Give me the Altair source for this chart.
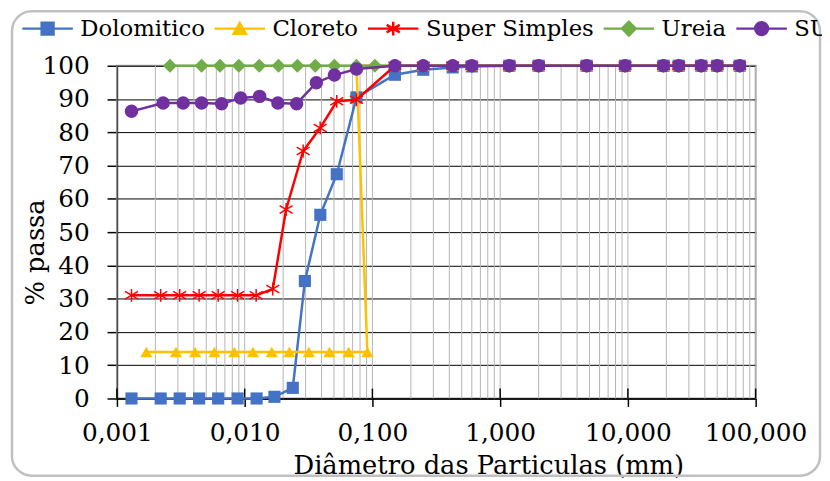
import altair as alt
import pandas as pd

series = ["Dolomitico", "Cloreto", "Super Simples", "Ureia", "SUC"]
colors = ["#4472C4", "#FFC000", "#FF0000", "#70AD47", "#7030A0"]

sieve_mm = [75, 50, 37.5, 25, 19, 9.5, 4.75, 2.0, 1.18, 0.6, 0.425, 0.25, 0.15, 0.075]

dolo_d = sieve_mm + [0.0526, 0.0391, 0.0296, 0.0238, 0.0171, 0.0124, 0.0088, 0.0062, 0.0044, 0.0031, 0.0022, 0.0013]
dolo_p = [100, 100, 100, 100, 100, 100, 100, 100, 100, 99.8, 99.5, 98.8, 97.3, 90.5,
          67.4, 55.2, 35.3, 3.2, 0.5, 0, 0, 0, 0, 0, 0, 0]

clor_d = sieve_mm + [0.0913, 0.0651, 0.0461, 0.0318, 0.0224, 0.0163, 0.0116, 0.0083, 0.0058, 0.0041, 0.0029, 0.0017]
clor_p = [100, 100, 100, 100, 100, 100, 100, 100, 100, 100, 100, 100, 100, 100,
          14, 14, 14, 14, 14, 14, 14, 14, 14, 14, 14, 14]

ss_d = sieve_mm + [0.0526, 0.0390, 0.0287, 0.0211, 0.0166, 0.0123, 0.0088, 0.0062, 0.0044, 0.0031, 0.0022, 0.0013]
ss_p = [100, 100, 100, 100, 100, 100, 100, 100, 100, 100, 100, 100, 100, 89.8,
        89.3, 81.3, 74.4, 56.8, 32.9, 31.0, 31, 31, 31, 31, 31, 31]

ure_d = sieve_mm + [0.1045, 0.0504, 0.0357, 0.0259, 0.0184, 0.0130, 0.0090, 0.0064, 0.0046, 0.0026]
ure_p = [100, 100, 100, 100, 100, 100, 100, 100, 100, 100, 100, 100, 100, 100,
         100, 100, 100, 100, 100, 100, 100, 100, 100, 100]

suc_d = sieve_mm + [0.0504, 0.0364, 0.0255, 0.0182, 0.0131, 0.0093, 0.0066, 0.0046, 0.0033, 0.0023, 0.0013]
suc_p = [100, 100, 100, 100, 100, 100, 100, 100, 100, 100, 100, 100, 100, 99.0,
         97.2, 94.9, 88.6, 88.8, 90.8, 90.3, 88.6, 88.8, 88.8, 88.8, 86.3]

x_ticks = [0.001, 0.01, 0.1, 1, 10, 100]
y_ticks = [0, 10, 20, 30, 40, 50, 60, 70, 80, 90, 100]
minor_mult = [1, 2, 3, 4, 5, 6, 7, 8, 9]

grid_vals = [d * m for d in x_ticks[:-1] for m in minor_mult] + [x_ticks[-1]]

rows = []
for s, ds, ps in zip(series, [dolo_d, clor_d, ss_d, ure_d, suc_d], [dolo_p, clor_p, ss_p, ure_p, suc_p]):
    for i, (d, p) in enumerate(zip(ds, ps)):
        rows.append({"serie": s, "d": d, "p": p, "ord": i})
df = pd.DataFrame(rows)

W, H = 645, 336
FONT = "DejaVu Serif"

xscale = alt.Scale(type="log", domain=[0.001, 100], nice=False)
yscale = alt.Scale(domain=[0, 100], nice=False)
cscale = alt.Scale(domain=series, range=colors)

xaxis = alt.Axis(values=x_ticks, labelExpr="replace(format(datum.value, '.3f'), '.', ',')",
                 grid=False, tickSize=8, tickColor="black", tickWidth=1.5,
                 domainColor="black", domainWidth=1.5,
                 labelFont=FONT, labelFontSize=25, labelColor="black", labelPadding=14,
                 labelFlush=False, labelOverlap=False,
                 title="Diâmetro das Particulas (mm)", titleFont=FONT, titleFontSize=26,
                 titleFontWeight="normal", titleColor="black", titleX=375, titleY=76,
                 titleBaseline="alphabetic", titleAlign="center")
yaxis = alt.Axis(values=y_ticks, grid=True, gridColor="black", gridWidth=1,
                 tickSize=10, tickColor="black", tickWidth=1.5,
                 domainColor="black", domainWidth=1.5,
                 labelFont=FONT, labelFontSize=25, labelColor="black", labelPadding=18,
                 title="% passa", titleFont=FONT, titleFontSize=26, titleFontWeight="normal",
                 titleColor="black", titleX=-82, titleY=188, titleAngle=270,
                 titleAlign="center", titleBaseline="middle")

leg_paths = {
    "Dolomitico": "M-1,0H1M-0.235,-0.235H0.235V0.235H-0.235Z",
    "Cloreto": "M-1,0H1M0,-0.22L0.24,0.2H-0.24Z",
    "Super Simples": "M-1,0H1M0,-0.27V0.27M-0.26,-0.15L0.26,0.15M-0.26,0.15L0.26,-0.15",
    "Ureia": "M-1,0H1M0,-0.27L0.27,0L0,0.27L-0.27,0Z",
    "SUC": "M-1,0H1M0.255,0A0.255,0.255,0,1,1,-0.255,0A0.255,0.255,0,1,1,0.255,0Z",
}
shape_expr = ""
for s in series[:-1]:
    shape_expr += f"datum.value === '{s}' ? '{leg_paths[s]}' : "
shape_expr += f"'{leg_paths[series[-1]]}'"

legend = alt.Legend(orient="none", direction="horizontal", legendX=-97, legendY=-64.5,
                    title=None, labelFont=FONT, labelFontSize=23, labelColor="black",
                    labelLimit=500,
                    symbolSize=2601, symbolStrokeWidth=2.5, labelOffset=6, columnPadding=4,
                    padding=0, symbolOpacity=1,
                    symbolType={"expr": shape_expr},
                    symbolFillColor={"expr": "scale('color', datum.value)"})

border = alt.Chart(pd.DataFrame({"k": [0]})).mark_rect(
    fill="transparent", stroke="#c0c0c0", strokeWidth=2.5, cornerRadius=20
).encode(x=alt.value(-106), x2=alt.value(710), y=alt.value(-55), y2=alt.value(414))

grid = alt.Chart(pd.DataFrame({"g": grid_vals})).mark_rule(color="#b4b4b4", strokeWidth=1).encode(
    x=alt.X("g:Q", scale=xscale, axis=xaxis), y=alt.value(0), y2=alt.value(H))

inner_ticks = alt.Chart(pd.DataFrame({"g": x_ticks})).mark_rule(color="black", strokeWidth=1.5).encode(
    x=alt.X("g:Q", scale=xscale, axis=xaxis), y=alt.value(H - 10), y2=alt.value(H))

marker = {
    "Dolomitico": dict(shape="square", size=150, filled=True),
    "Cloreto": dict(shape="triangle-up", size=150, filled=True),
    "Super Simples": dict(shape="M0,-1V1M-1,-0.6L1,0.6M-1,0.6L1,-0.6", size=170, filled=False, strokeWidth=1.5),
    "Ureia": dict(shape="diamond", size=200, filled=True),
    "SUC": dict(shape="circle", size=185, filled=True),
}

layers = [border, grid, inner_ticks]
for s, c in zip(series, colors):
    sub = alt.Chart(df).transform_filter(alt.datum.serie == s)
    line = sub.mark_line(strokeWidth=2.5).encode(
        x=alt.X("d:Q", scale=xscale, axis=xaxis),
        y=alt.Y("p:Q", scale=yscale, axis=yaxis),
        color=alt.Color("serie:N", scale=cscale, legend=legend),
        order="ord:Q")
    pts = sub.mark_point(opacity=1, color=c, **marker[s]).encode(
        x=alt.X("d:Q", scale=xscale, axis=xaxis),
        y=alt.Y("p:Q", scale=yscale, axis=yaxis))
    layers += [line, pts]

chart = alt.layer(*layers).properties(
    width=W, height=H, autosize="none",
    padding={"left": 110, "top": 56, "right": 67, "bottom": 81},
    background="white",
).configure_view(stroke="#a6a6a6", strokeWidth=2)

chart.save("out.html", embed_options={"renderer": "svg", "actions": False})
